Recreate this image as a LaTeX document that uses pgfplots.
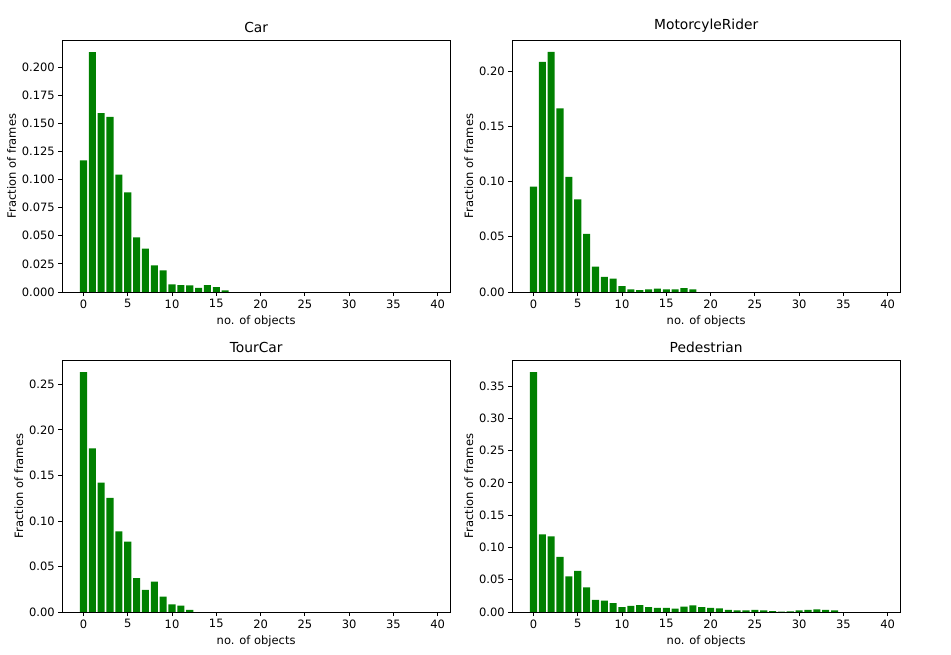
\documentclass[border=0pt]{standalone}
\usepackage{fontspec}
\setmainfont{DejaVu Sans}
\usepackage{pgfplots}
\pgfplotsset{compat=1.18}

\definecolor{mplgreen}{RGB}{0,128,0}

\pgfplotsset{
  hist/.style={
    scale only axis,
    width=387.7pt, height=252pt,
    xmin=-2.39, xmax=41.39, ymin=0,
    xtick={0,5,...,40},
    xtick pos=bottom, ytick pos=left,
    tick align=outside,
    major tick length=4pt,
    axis line style={line width=0.8pt},
    every tick/.style={black, line width=0.8pt},
    /pgf/number format/assume math mode=true,
    tick label style={font=\fontsize{11.5}{13}\selectfont},
    label style={font=\fontsize{11.5}{13}\selectfont},
    title style={font=\fontsize{13.8}{16}\selectfont, yshift=-2pt},
    xlabel={no. of objects},
    ylabel={Fraction of frames},
    xlabel style={yshift=-1pt},
    ylabel style={yshift=-1pt},
  },
  bars/.style={ybar, bar width=0.8, fill=mplgreen, draw=none},
}

\begin{document}
\begin{tikzpicture}[x=1pt,y=1pt]
\path (0,0) rectangle (951,655);

\begin{axis}[hist, at={(62.3pt,363pt)}, anchor=south west,
  title={Car}, ymax=0.224, ytick={0,0.025,...,0.2},
  yticklabel style={/pgf/number format/.cd, fixed, fixed zerofill, precision=3}]
\addplot[bars] coordinates {
(0,0.1171) (1,0.2133) (2,0.1591) (3,0.1556) (4,0.1043) (5,0.0886)
(6,0.0486) (7,0.0385) (8,0.0237) (9,0.0193) (10,0.0068) (11,0.0062)
(12,0.0059) (13,0.0036) (14,0.0062) (15,0.0044) (16,0.0015)
};
\end{axis}

\begin{axis}[hist, at={(512.3pt,363pt)}, anchor=south west,
  title={MotorcyleRider}, ymax=0.228, ytick={0,0.05,...,0.2},
  yticklabel style={/pgf/number format/.cd, fixed, fixed zerofill, precision=2}]
\addplot[bars] coordinates {
(0,0.0953) (1,0.2081) (2,0.2172) (3,0.1662) (4,0.1041) (5,0.0839)
(6,0.0525) (7,0.0229) (8,0.0136) (9,0.0121) (10,0.0054) (11,0.0024)
(12,0.0018) (13,0.0024) (14,0.0030) (15,0.0024) (16,0.0024) (17,0.0036)
(18,0.0024)
};
\end{axis}

\begin{axis}[hist, at={(62.3pt,43pt)}, anchor=south west,
  title={TourCar}, ymax=0.2767, ytick={0,0.05,...,0.25},
  yticklabel style={/pgf/number format/.cd, fixed, fixed zerofill, precision=2}]
\addplot[bars] coordinates {
(0,0.2635) (1,0.1797) (2,0.1420) (3,0.1252) (4,0.0886) (5,0.0772)
(6,0.0373) (7,0.0242) (8,0.0333) (9,0.0168) (10,0.0084) (11,0.0070)
(12,0.0022)
};
\end{axis}

\begin{axis}[hist, at={(512.3pt,43pt)}, anchor=south west,
  title={Pedestrian}, ymax=0.3903, ytick={0,0.05,...,0.35},
  yticklabel style={/pgf/number format/.cd, fixed, fixed zerofill, precision=2}]
\addplot[bars] coordinates {
(0,0.3717) (1,0.1203) (2,0.1172) (3,0.0852) (4,0.0552) (5,0.0635)
(6,0.0382) (7,0.0186) (8,0.0176) (9,0.0139) (10,0.0077) (11,0.0093)
(12,0.0105) (13,0.0077) (14,0.0062) (15,0.0062) (16,0.0052) (17,0.0083)
(18,0.0103) (19,0.0077) (20,0.0062) (21,0.0057) (22,0.0031) (23,0.0026)
(24,0.0026) (25,0.0031) (26,0.0026) (27,0.0015) (28,0.0005) (29,0.0010)
(30,0.0026) (31,0.0031) (32,0.0041) (33,0.0031) (34,0.0026)
};
\end{axis}
\end{tikzpicture}
\end{document}
